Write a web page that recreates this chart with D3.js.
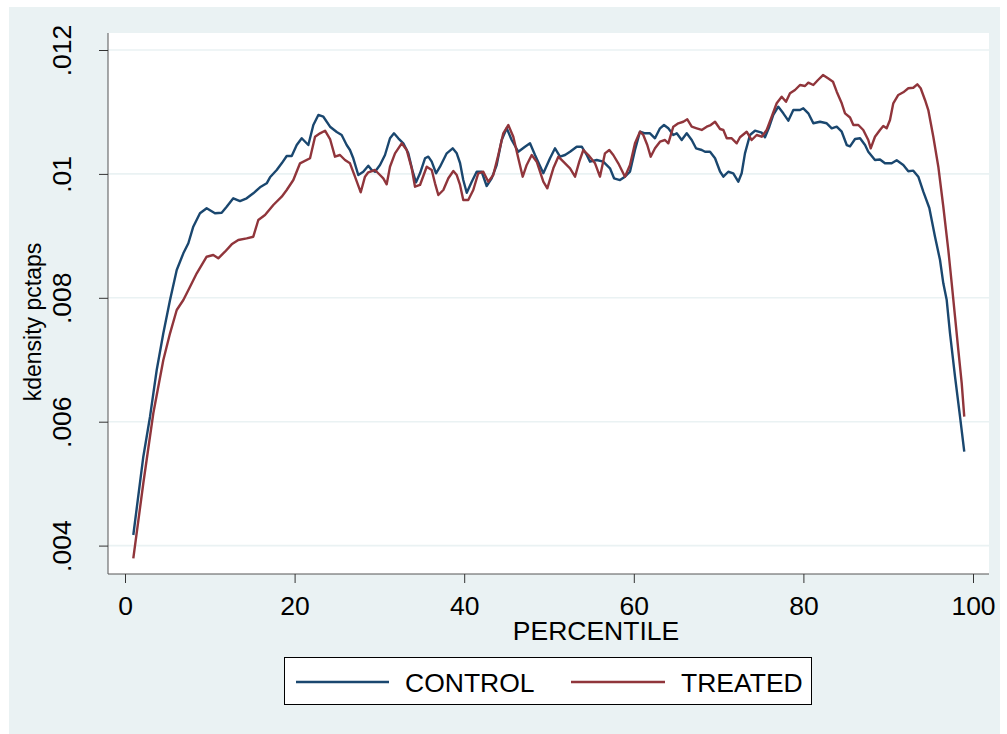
<!DOCTYPE html>
<html>
<head>
<meta charset="utf-8">
<script src="https://cdn.jsdelivr.net/npm/d3@7"></script>
<style>
  body { margin: 0; background: #ffffff; }
  text { font-family: "Liberation Sans", Arial, sans-serif; fill: #000; }
</style>
</head>
<body>
<svg width="1007" height="734"></svg>
<script>
// kdensity of pctaps by group
const controlX = [0.98,2.16,2.95,3.74,4.52,5.31,6.10,6.88,7.47,8.05,8.84,9.63,10.61,11.40,11.99,12.77,13.56,14.35,15.13,15.92,16.71,17.10,17.89,18.48,19.07,19.66,20.25,20.84,21.62,22.21,22.80,23.39,24.18,24.97,25.55,26.14,26.53,26.92,27.51,28.10,28.69,29.09,29.48,30.07,30.66,31.25,31.72,32.23,32.82,33.41,33.93,34.32,34.79,35.38,35.77,36.17,36.68,37.15,37.94,38.64,39.12,39.51,39.89,40.30,40.89,41.47,42.06,42.65,43.24,43.83,44.42,45.01,45.60,46.38,47.17,47.76,48.35,49.33,50.12,50.71,51.30,51.89,52.48,53.27,53.86,54.45,54.84,55.63,56.40,57.19,57.67,58.37,58.96,59.55,60.14,60.73,61.32,61.91,62.50,63.09,63.56,64.07,64.66,65.06,65.65,66.24,66.83,67.34,68.01,68.40,68.99,69.58,70.17,70.56,71.14,71.73,72.32,72.72,73.11,73.70,74.29,75.08,75.47,75.98,76.45,77.04,77.63,78.22,78.81,79.60,79.99,80.58,81.17,81.96,82.75,83.34,83.93,84.52,85.11,85.50,86.09,86.68,87.27,87.65,88.44,89.03,89.62,90.41,91.00,91.78,92.37,92.96,93.55,94.14,94.85,95.52,96.11,96.50,96.90,97.29,97.88,98.47,98.97];
const controlY = [0.004171,0.005435,0.006081,0.006834,0.007427,0.007964,0.008449,0.008718,0.008880,0.009148,0.009364,0.009445,0.009364,0.009374,0.009470,0.009606,0.009562,0.009606,0.009687,0.009784,0.009848,0.009945,0.010063,0.010171,0.010289,0.010289,0.010466,0.010575,0.010466,0.010789,0.010951,0.010923,0.010762,0.010676,0.010628,0.010466,0.010386,0.010252,0.009982,0.010035,0.010132,0.010063,0.010035,0.010144,0.010305,0.010575,0.010655,0.010575,0.010494,0.010332,0.010035,0.009864,0.010010,0.010252,0.010278,0.010197,0.010010,0.010116,0.010332,0.010413,0.010332,0.010176,0.009901,0.009696,0.009874,0.010035,0.010035,0.009805,0.009929,0.010144,0.010547,0.010736,0.010547,0.010358,0.010439,0.010494,0.010305,0.010010,0.010252,0.010413,0.010278,0.010305,0.010358,0.010439,0.010439,0.010305,0.010197,0.010224,0.010197,0.010090,0.009929,0.009901,0.009955,0.010035,0.010386,0.010681,0.010655,0.010655,0.010575,0.010736,0.010789,0.010736,0.010628,0.010655,0.010547,0.010655,0.010547,0.010413,0.010386,0.010358,0.010358,0.010252,0.010039,0.009955,0.010035,0.010010,0.009874,0.010010,0.010332,0.010628,0.010697,0.010665,0.010591,0.010762,0.010951,0.011085,0.010978,0.010859,0.011031,0.011031,0.011059,0.010978,0.010817,0.010842,0.010817,0.010736,0.010762,0.010681,0.010466,0.010445,0.010563,0.010575,0.010466,0.010358,0.010224,0.010232,0.010171,0.010171,0.010219,0.010144,0.010042,0.010052,0.009955,0.009713,0.009449,0.008986,0.008610,0.008234,0.007964,0.007427,0.006726,0.006081,0.005516];

const treatedX = [0.98,2.16,3.34,4.52,5.31,6.10,6.88,7.67,8.46,9.63,10.41,11.00,11.79,12.58,13.36,14.35,15.13,15.72,16.51,17.49,18.48,19.07,19.85,20.64,21.82,22.41,23.00,23.59,24.18,24.76,25.35,25.94,26.53,27.12,27.80,28.30,28.69,29.48,30.07,30.46,30.86,31.25,31.84,32.63,33.22,33.81,34.20,34.79,35.58,36.17,36.56,36.95,37.54,38.13,38.72,39.12,39.51,39.89,40.48,41.07,41.66,42.25,42.84,43.43,44.02,44.61,45.20,45.79,46.38,46.90,47.37,47.96,48.55,49.33,49.80,50.51,51.10,51.69,52.48,53.07,53.57,54.05,54.64,55.43,56.01,56.60,57.11,57.58,58.17,58.96,59.55,60.14,60.73,61.12,61.59,61.99,62.50,63.09,63.68,64.07,64.66,65.25,65.84,66.31,66.83,67.42,68.01,68.60,69.07,69.58,70.17,70.56,70.96,71.55,72.14,72.52,73.31,73.90,74.49,75.08,75.67,76.26,76.85,77.44,77.95,78.42,79.01,79.60,80.19,80.58,81.17,81.72,82.31,82.90,83.49,83.93,84.52,84.91,85.50,85.89,86.48,87.06,87.65,87.94,88.44,89.03,89.42,89.82,90.21,90.60,91.19,91.78,92.37,92.96,93.43,93.83,94.34,94.73,95.32,95.91,96.50,97.09,97.49,97.88,98.27,98.67,98.97];
const treatedY = [0.003795,0.005006,0.006136,0.006996,0.007427,0.007803,0.007964,0.008179,0.008395,0.008663,0.008691,0.008638,0.008744,0.008863,0.008933,0.008960,0.008986,0.009256,0.009336,0.009498,0.009632,0.009740,0.009901,0.010171,0.010252,0.010600,0.010655,0.010697,0.010563,0.010278,0.010305,0.010224,0.010171,0.009955,0.009703,0.009955,0.010026,0.010063,0.009982,0.009929,0.009832,0.010116,0.010332,0.010494,0.010386,0.010090,0.009793,0.009821,0.010116,0.010063,0.009848,0.009659,0.009740,0.009929,0.010047,0.009982,0.009821,0.009579,0.009579,0.009740,0.010010,0.010035,0.009874,0.009982,0.010305,0.010655,0.010789,0.010600,0.010252,0.009955,0.010144,0.010305,0.010197,0.009874,0.009767,0.010090,0.010278,0.010197,0.010090,0.009955,0.010197,0.010386,0.010305,0.010171,0.009955,0.010332,0.010386,0.010305,0.010171,0.009955,0.010144,0.010494,0.010681,0.010628,0.010466,0.010278,0.010413,0.010520,0.010547,0.010494,0.010762,0.010817,0.010842,0.010881,0.010762,0.010736,0.010709,0.010762,0.010789,0.010842,0.010725,0.010709,0.010575,0.010575,0.010494,0.010591,0.010681,0.010547,0.010628,0.010600,0.010709,0.010923,0.011140,0.011246,0.011165,0.011301,0.011354,0.011435,0.011419,0.011472,0.011435,0.011516,0.011596,0.011543,0.011488,0.011327,0.011140,0.010978,0.010910,0.010789,0.010789,0.010709,0.010547,0.010413,0.010600,0.010709,0.010773,0.010736,0.010870,0.011140,0.011274,0.011317,0.011382,0.011391,0.011446,0.011382,0.011193,0.011031,0.010600,0.010116,0.009470,0.008771,0.008234,0.007695,0.007157,0.006620,0.006081];

const xTicks = [0, 20, 40, 60, 80, 100];
const yTicks = [0.004, 0.006, 0.008, 0.010, 0.012];
const yTickLabels = [".004", ".006", ".008", ".01", ".012"];
const seriesNames = ["CONTROL", "TREATED"];
const seriesColors = ["#1a476f", "#90353b"];

const svg = d3.select("svg");

// outer graph region and plot region
const outer = {left: 9, top: 7, right: 1000, bottom: 734};
const plot = {left: 108, top: 33, right: 989, bottom: 574};

svg.append("rect")
    .attr("x", outer.left).attr("y", outer.top)
    .attr("width", outer.right - outer.left).attr("height", outer.bottom - outer.top)
    .attr("fill", "#eaf2f3");

svg.append("rect")
    .attr("x", plot.left).attr("y", plot.top)
    .attr("width", plot.right - plot.left).attr("height", plot.bottom - plot.top)
    .attr("fill", "#ffffff");

const x = d3.scaleLinear().domain([0, 100]).range([125, 973]);
const y = d3.scaleLinear().domain([0.004, 0.012]).range([545.6, 50]);

// grid lines
svg.append("g").selectAll("line")
    .data(yTicks)
    .enter().append("line")
    .attr("x1", plot.left).attr("x2", plot.right)
    .attr("y1", d => y(d)).attr("y2", d => y(d))
    .attr("stroke", "#eaf2f3")
    .attr("stroke-width", 1.6);

// y axis
const yAxis = svg.append("g")
    .attr("transform", `translate(${plot.left},0)`)
    .call(d3.axisLeft(y).tickValues(yTicks).tickSize(9).tickPadding(0)
        .tickFormat((d, i) => yTickLabels[i]));
yAxis.select(".domain").attr("d", `M0,${plot.top}V${plot.bottom}`).attr("stroke", "#555");
yAxis.selectAll(".tick line").attr("stroke", "#333");
yAxis.selectAll(".tick text")
    .attr("x", null).attr("dy", null)
    .attr("y", -37)
    .attr("text-anchor", "middle")
    .attr("transform", "rotate(-90)")
    .style("font-size", "26.5px")
    .style("font-family", "'Liberation Sans', Arial, sans-serif");

// x axis
const xAxis = svg.append("g")
    .attr("transform", `translate(0,${plot.bottom})`)
    .call(d3.axisBottom(x).tickValues(xTicks).tickSize(9).tickPadding(0));
xAxis.select(".domain").attr("d", `M${plot.left},0H${plot.right}`).attr("stroke", "#555");
xAxis.selectAll(".tick line").attr("stroke", "#333");
xAxis.selectAll(".tick text")
    .attr("dy", null)
    .attr("y", 41)
    .style("font-size", "26.5px")
    .style("font-family", "'Liberation Sans', Arial, sans-serif");

// axis titles
svg.append("text")
    .attr("transform", "translate(41,322) rotate(-90)")
    .attr("text-anchor", "middle")
    .style("font-size", "23px")
    .text("kdensity pctaps");

svg.append("text")
    .attr("x", 596).attr("y", 640)
    .attr("text-anchor", "middle")
    .style("font-size", "26.5px")
    .text("PERCENTILE");

// lines
const line = d3.line()
    .x(d => x(d[0]))
    .y(d => y(d[1]));

const series = [
    d3.zip(controlX, controlY),
    d3.zip(treatedX, treatedY)
];

svg.append("g").selectAll("path")
    .data(series)
    .enter().append("path")
    .attr("fill", "none")
    .attr("stroke", (d, i) => seriesColors[i])
    .attr("stroke-width", 2.4)
    .attr("stroke-linejoin", "round")
    .attr("d", line);

// legend
const legend = svg.append("g");
legend.append("rect")
    .attr("x", 284.5).attr("y", 657.5)
    .attr("width", 527).attr("height", 47)
    .attr("fill", "#ffffff")
    .attr("stroke", "#000")
    .attr("stroke-width", 1);

const legendItems = [
    {x1: 296, x2: 389, tx: 405},
    {x1: 571, x2: 665, tx: 681}
];
legendItems.forEach(function(it, i) {
    legend.append("line")
        .attr("x1", it.x1).attr("x2", it.x2)
        .attr("y1", 682).attr("y2", 682)
        .attr("stroke", seriesColors[i])
        .attr("stroke-width", 2.4);
    legend.append("text")
        .attr("x", it.tx).attr("y", 692)
        .style("font-size", "26.5px")
        .text(seriesNames[i]);
});
</script>
</body>
</html>
